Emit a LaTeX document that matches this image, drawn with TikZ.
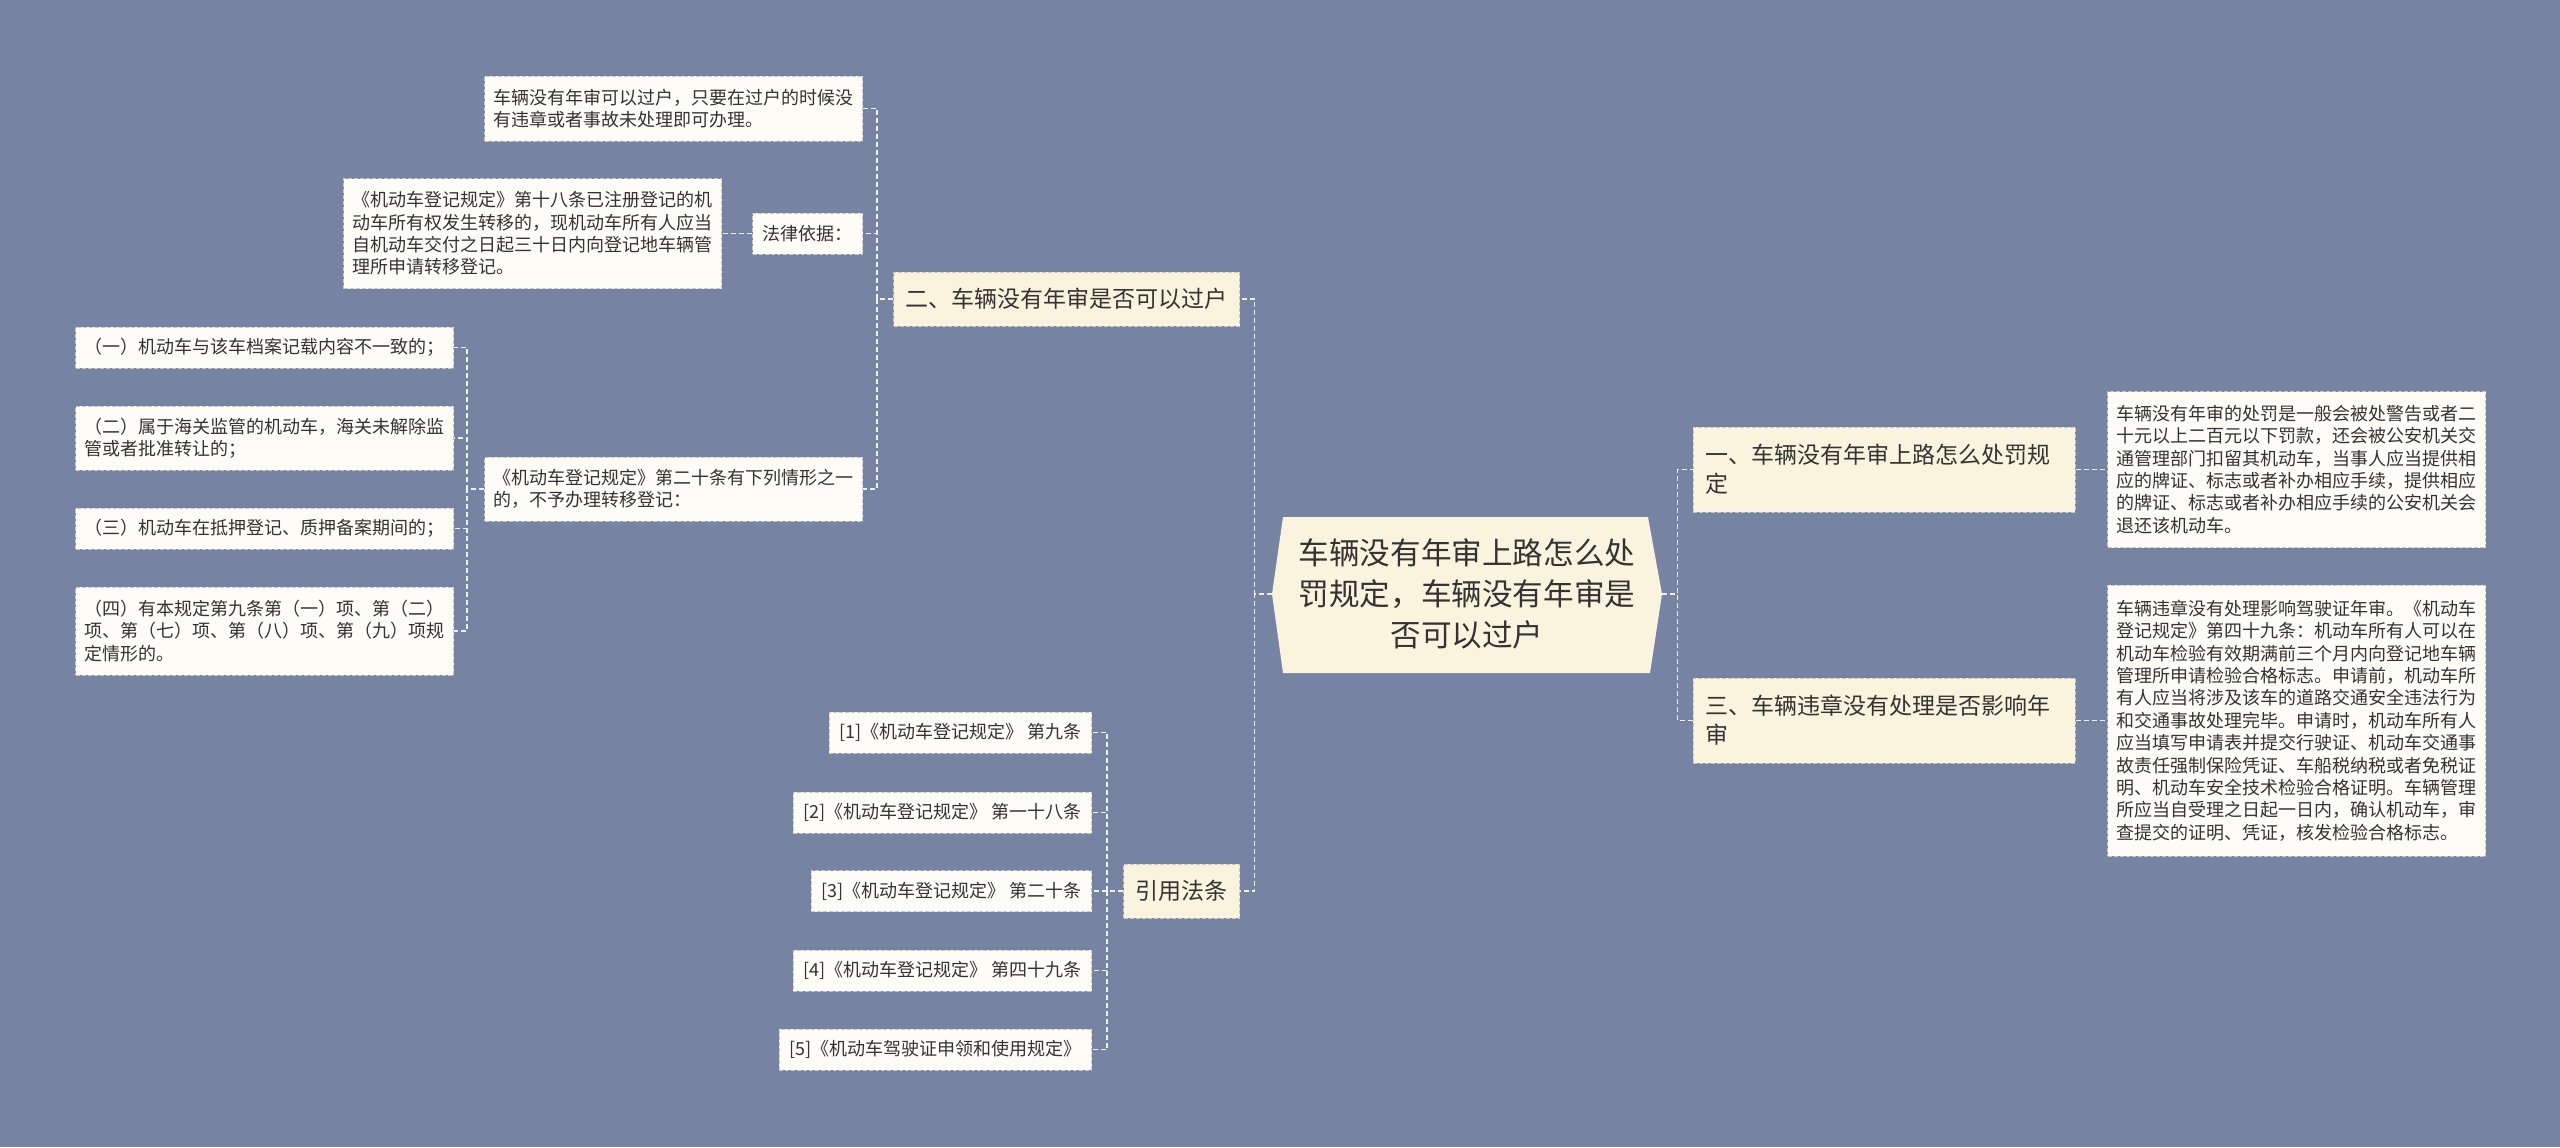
\documentclass[tikz,border=0pt]{standalone}
\usepackage{fontspec}
\setmainfont{Noto Sans CJK SC}
\definecolor{bg}{HTML}{7783A3}
\definecolor{mainfill}{HTML}{FAF4DE}
\definecolor{leaffill}{HTML}{FDFCF6}
\definecolor{boxline}{HTML}{C9C9C4}
\definecolor{connc}{HTML}{EEF0F4}
\definecolor{txt}{HTML}{333333}
\begin{document}
\begin{tikzpicture}[x=0.5pt,y=-0.5pt,
  box/.style={draw=boxline, dash pattern=on 2pt off 1pt, line width=0.5pt, inner ysep=0pt, text=txt, align=left},
  leaf/.style={box, fill=leaffill, font=\fontsize{9}{11.2}\selectfont, inner xsep=4.5pt, text width=180pt},
  shortleaf/.style={box, fill=leaffill, font=\fontsize{9}{11.2}\selectfont, inner xsep=5pt},
  mainbox/.style={box, fill=mainfill, font=\fontsize{11.5}{14.5}\selectfont, inner xsep=6pt},
  conn/.style={draw=connc, line width=0.8pt, dash pattern=on 2.5pt off 1.5pt}]

\fill[bg] (0,0) rectangle (2560,1147);

% root
\fill[mainfill] (1283,517) -- (1648,517) -- (1662,594) -- (1650,673) -- (1283,673) -- (1272,594) -- cycle;
\node[text=txt, align=center, font=\fontsize{15.3}{20.5}\selectfont, minimum width=195pt, minimum height=78pt, inner sep=0pt] (root) at (1467,594)
  {车辆没有年审上路怎么处\\罚规定，车辆没有年审是\\否可以过户};

% level 1
\node[mainbox, minimum height=27pt] (b2) at (1066.5,299) {二、车辆没有年审是否可以过户};
\node[mainbox, minimum height=27pt] (bref) at (1181.5,891) {引用法条};
\node[mainbox, text width=179pt, minimum height=42.5pt] (b1) at (1884,469.5) {一、车辆没有年审上路怎么处罚规\\定};
\node[mainbox, text width=179pt, minimum height=42.5pt] (b3) at (1884,720.5) {三、车辆违章没有处理是否影响年\\审};

% right leaves
\node[leaf, minimum height=78pt] (r1) at (2296.5,469.5) {车辆没有年审的处罚是一般会被处警告或者二\\十元以上二百元以下罚款，还会被公安机关交\\通管理部门扣留其机动车，当事人应当提供相\\应的牌证、标志或者补办相应手续，提供相应\\的牌证、标志或者补办相应手续的公安机关会\\退还该机动车。};
\node[leaf, minimum height=135.5pt] (r2) at (2296.5,720.5) {车辆违章没有处理影响驾驶证年审。《机动车\\登记规定》第四十九条：机动车所有人可以在\\机动车检验有效期满前三个月内向登记地车辆\\管理所申请检验合格标志。申请前，机动车所\\有人应当将涉及该车的道路交通安全违法行为\\和交通事故处理完毕。申请时，机动车所有人\\应当填写申请表并提交行驶证、机动车交通事\\故责任强制保险凭证、车船税纳税或者免税证\\明、机动车安全技术检验合格证明。车辆管理\\所应当自受理之日起一日内，确认机动车，审\\查提交的证明、凭证，核发检验合格标志。};

% left branch of b2
\node[leaf, minimum height=32.5pt] (t1) at (673.5,108.5) {车辆没有年审可以过户，只要在过户的时候没\\有违章或者事故未处理即可办理。};
\node[shortleaf, minimum height=20.5pt] (law) at (807.5,233.5) {法律依据：};
\node[leaf, minimum height=55pt] (art18) at (532.5,233.5) {《机动车登记规定》第十八条已注册登记的机\\动车所有权发生转移的，现机动车所有人应当\\自机动车交付之日起三十日内向登记地车辆管\\理所申请转移登记。};
\node[leaf, minimum height=32pt] (art20) at (673.5,489) {《机动车登记规定》第二十条有下列情形之一\\的，不予办理转移登记：};

\node[leaf, minimum height=20.5pt] (c1) at (264.5,347.5) {（一）机动车与该车档案记载内容不一致的；};
\node[leaf, minimum height=32pt] (c2) at (264.5,438) {（二）属于海关监管的机动车，海关未解除监\\管或者批准转让的；};
\node[leaf, minimum height=20.5pt] (c3) at (264.5,528.5) {（三）机动车在抵押登记、质押备案期间的；};
\node[leaf, minimum height=44pt] (c4) at (264.5,631) {（四）有本规定第九条第（一）项、第（二）\\项、第（七）项、第（八）项、第（九）项规\\定情形的。};

% references
\node[shortleaf, anchor=east, minimum height=20.5pt] (ref1) at (1092,732.5) {[1]《机动车登记规定》 第九条};
\node[shortleaf, anchor=east, minimum height=20.5pt] (ref2) at (1092,812.5) {[2]《机动车登记规定》 第一十八条};
\node[shortleaf, anchor=east, minimum height=20.5pt] (ref3) at (1092,891) {[3]《机动车登记规定》 第二十条};
\node[shortleaf, anchor=east, minimum height=20.5pt] (ref4) at (1092,970.5) {[4]《机动车登记规定》 第四十九条};
\node[shortleaf, anchor=east, minimum height=20.5pt] (ref5) at (1092,1049.5) {[5]《机动车驾驶证申领和使用规定》};

% connectors
\draw[conn] (root.west) -- ++(-17,0) |- (b2.east);
\draw[conn] (root.west) -- ++(-17,0) |- (bref.east);
\draw[conn] (root.east) -- ++(15,0) |- (b1.west);
\draw[conn] (root.east) -- ++(15,0) |- (b3.west);
\draw[conn] (b1.east) -- (r1.west);
\draw[conn] (b3.east) -- (r2.west);

\draw[conn] (b2.west) -- ++(-16,0) |- (t1.east);
\draw[conn] (b2.west) -- ++(-16,0) |- (law.east);
\draw[conn] (b2.west) -- ++(-16,0) |- (art20.east);
\draw[conn] (law.west) -- (art18.east);

\draw[conn] (art20.west) -- ++(-17,0) |- (c1.east);
\draw[conn] (art20.west) -- ++(-17,0) |- (c2.east);
\draw[conn] (art20.west) -- ++(-17,0) |- (c3.east);
\draw[conn] (art20.west) -- ++(-17,0) |- (c4.east);

\draw[conn] (bref.west) -- ++(-16,0) |- (ref1.east);
\draw[conn] (bref.west) -- ++(-16,0) |- (ref2.east);
\draw[conn] (bref.west) -- ++(-16,0) |- (ref3.east);
\draw[conn] (bref.west) -- ++(-16,0) |- (ref4.east);
\draw[conn] (bref.west) -- ++(-16,0) |- (ref5.east);
\end{tikzpicture}
\end{document}
